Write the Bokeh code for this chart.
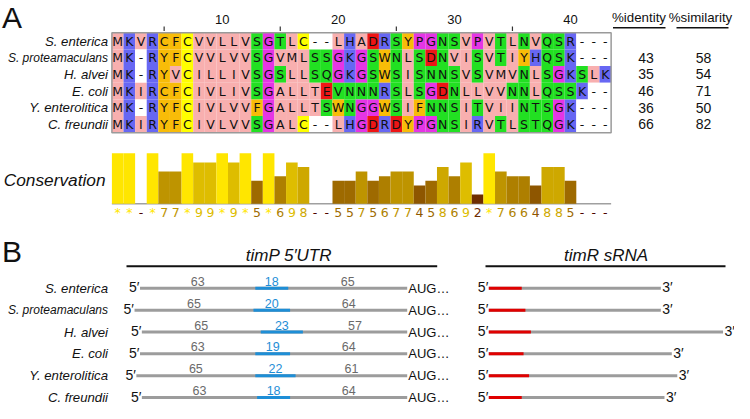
from bokeh.plotting import figure
from bokeh.models import Range1d, ColumnDataSource
from bokeh.embed import file_html
from bokeh.resources import INLINE
from bokeh.core.properties import value

# ---------------- data ----------------
species = ["S. enterica", "S. proteamaculans", "H. alvei", "E. coli",
           "Y. enterolitica", "C. freundii"]
alignment = [
    "MKVRCFCVVLLVSGTLC--LHADRSYPGNSVPVTLNVQSR---",
    "MK-RYFCVVLVVSGVMLSSGKGSWNLSDNVISVTIYHQSK---",
    "MK-RYVCILLIVSGSLLSQGKGSWSISNNSVSVMVNLSGKSLK",
    "MKIRCFCIVLIVSGALLTEVNNNRSLSGDNLLVVNNLQSSK--",
    "MK-RYFCIVLVVFGALLTSWNGGWSIFNNSITVIINTSGK---",
    "MKIRYFCIVLVVSGALC--LHGDRDYPGNSIRVTLSTQGK---",
]
# residue classes that differ from the plain Zappo rule in the picture
class_overrides = {(0, 5): "aromatic", (3, 5): "aromatic", (3, 18): "hydrophobic",
                   (4, 18): "hydrophobic", (3, 20): "hydrophilic"}
conservation = list("**-*77*99*9*5*698--5575677458692*7664885---")
tick_labels = [10, 20, 30, 40]
tick_minor = [5, 15, 25, 35]
identity = [None, 43, 35, 46, 36, 66]
similarity = [None, 58, 54, 71, 50, 82]
utr_up = [63, 65, 65, 63, 65, 63]
utr_pair = [18, 20, 23, 19, 22, 18]
utr_down = [65, 64, 57, 64, 61, 64]
timr_len = [94, 94, 128, 100, 103, 96]

# ---------------- layout / style ----------------
W, H = 734, 403
ALN_X0, CW = 111.4, 11.61
ROW0, RH = 40.6, 16.67
CONS_BASE, CU = 203.3, 4.6
NT_END, PXNT = 406.7, 1.83
TIMR_X0 = 488.3
PB_TOP, PB_K = 230.0, 0.9096


def by(y):
    return PB_TOP + (y - PB_TOP) * PB_K


ROWB0, RHB = by(293.6), 24.0 * PB_K
SANS = value("Liberation Sans")
DJV = value("DejaVu Sans")

CLASS_COLOR = {"hydrophobic": "#F8AFAF", "aromatic": "#F8BC08", "positive": "#6767F3",
               "negative": "#EE1515", "hydrophilic": "#22E022", "conformational": "#E535E5",
               "cysteine": "#FFFF00", "gap": "#FFFFFF"}
ZAPPO = {}
for aa in "ILVAM":
    ZAPPO[aa] = "hydrophobic"
for aa in "FWY":
    ZAPPO[aa] = "aromatic"
for aa in "KRH":
    ZAPPO[aa] = "positive"
for aa in "DE":
    ZAPPO[aa] = "negative"
for aa in "STNQ":
    ZAPPO[aa] = "hydrophilic"
for aa in "PG":
    ZAPPO[aa] = "conformational"
ZAPPO["C"] = "cysteine"
ZAPPO["-"] = "gap"


def cons_value(c):
    if c == "*":
        return 11
    if c == "-":
        return 0
    return int(c)


def cons_color(v):
    if v >= 11:
        return "#FFE600"
    r = max(0, min(255, int(110 + 16.1 * (v - 2))))
    g = max(0, min(255, int(45 + 20.6 * (v - 2))))
    return f"#{r:02x}{g:02x}00"


p = figure(width=W, height=H, x_range=Range1d(0, W), y_range=Range1d(H, 0),
           output_backend="svg", toolbar_location=None, min_border=0,
           x_axis_location=None, y_axis_location=None)
p.grid.visible = False
p.outline_line_color = None
p.background_fill_color = "white"

p.extra_x_ranges = {
    "col": Range1d(0.5 - ALN_X0 / CW, 0.5 + (W - ALN_X0) / CW),
    "nt": Range1d(-NT_END / PXNT, (W - NT_END) / PXNT),
    "nt2": Range1d(-TIMR_X0 / PXNT, (W - TIMR_X0) / PXNT),
}
p.extra_y_ranges = {
    "row": Range1d((H - ROW0) / RH, -ROW0 / RH),
    "cons": Range1d((CONS_BASE - H) / CU, CONS_BASE / CU),
    "rowb": Range1d((H - ROWB0) / RHB, -ROWB0 / RHB),
}

# ---------------- panel letters ----------------
p.text(x=[1.5, 1.5], y=[16.5, by(250.8) + 1.8], text=["A", "B"], text_font=SANS,
       text_font_size="30px", text_baseline="middle", text_align="left",
       text_color="#111111")

# ---------------- alignment ----------------
n_cols = len(alignment[0])
cx, cy, ct, cc = [], [], [], []
for i, seq in enumerate(alignment):
    for j, aa in enumerate(seq):
        cls = class_overrides.get((i, j + 1), ZAPPO[aa])
        cx.append(j + 1)
        cy.append(i)
        ct.append(aa)
        cc.append(CLASS_COLOR[cls])
cells = ColumnDataSource(dict(x=cx, y=cy, t=ct, c=cc))
p.rect(x="x", y="y", width=1, height=1, source=cells, fill_color="c",
       line_color=None, x_range_name="col", y_range_name="row")
p.text(x="x", y="y", text="t", source=cells, text_font=DJV,
       text_font_size="12.5px", text_align="center", text_baseline="middle",
       text_color="#111111", x_range_name="col", y_range_name="row")
p.quad(left=[0.5], right=[n_cols + 0.5], top=[-0.5], bottom=[len(alignment) - 0.5],
       fill_color=None, line_color="#9a9a9a", line_width=1.5,
       x_range_name="col", y_range_name="row")

label_sizes = ["12px" if len(s) > 15 else "13.2px" for s in species]
lab_src = ColumnDataSource(dict(x=[107.5] * len(species), y=list(range(len(species))),
                                t=species, s=label_sizes))
p.text(x="x", y="y", text="t", source=lab_src, text_font=SANS,
       text_font_style="italic", text_font_size="s", text_align="right",
       text_baseline="middle", text_color="#111111", y_range_name="row")

# position ticks
p.segment(x0=tick_minor, x1=tick_minor, y0=[26] * 4, y1=[30.5] * 4,
          line_color="#333333", line_width=1.2, x_range_name="col")
p.text(x=tick_labels, y=[19.3] * 4, text=[str(t) for t in tick_labels],
       text_font=SANS, text_font_size="13px", text_align="center",
       text_baseline="middle", text_color="#111111", x_range_name="col")

# %identity / %similarity
p.text(x=[638.5, 700], y=[17, 17], text=["%identity", "%similarity"], text_font=SANS,
       text_font_size="13.3px", text_align="center", text_baseline="middle",
       text_color="#111111")
p.segment(x0=[612.5, 676], x1=[665, 728], y0=[27.3, 27.3], y1=[27.3, 27.3],
          line_color="#111111", line_width=1.5)
rows_p = [i for i in range(len(species)) if identity[i] is not None]
p.text(x=[645.5] * len(rows_p), y=rows_p, text=[str(identity[i]) for i in rows_p],
       text_font=SANS, text_font_size="14px", text_align="center",
       text_baseline="middle", text_color="#111111", y_range_name="row")
p.text(x=[703] * len(rows_p), y=rows_p, text=[str(similarity[i]) for i in rows_p],
       text_font=SANS, text_font_size="14px", text_align="center",
       text_baseline="middle", text_color="#111111", y_range_name="row")

# ---------------- conservation ----------------
cv = [cons_value(c) for c in conservation]
ccol = [cons_color(v) for v in cv]
cols = list(range(1, len(cv) + 1))
p.segment(x0=[0.5], x1=[len(cv) + 0.5], y0=[0], y1=[0], line_color="#a0a0a0",
          line_width=1.6, x_range_name="col", y_range_name="cons")
p.vbar(x=cols, top=cv, bottom=0, width=1, fill_color=ccol, line_color=None,
       x_range_name="col", y_range_name="cons")
p.text(x=cols, y=[211.5] * len(cols), text=conservation, text_color=ccol,
       text_font=DJV, text_font_size="12.5px", text_align="center",
       text_baseline="middle", x_range_name="col")
p.text(x=[105], y=[179], text=["Conservation"], text_font=SANS,
       text_font_style="italic", text_font_size="17.3px", text_align="right",
       text_baseline="middle", text_color="#111111")

# ---------------- panel B ----------------
p.text(x=[288.5, 605.5], y=[by(256.7) + 0.8] * 2, text=["timP 5\u2032UTR", "timR sRNA"],
       text_font=SANS, text_font_style="italic", text_font_size="17px",
       text_align="center", text_baseline="middle", text_color="#111111")
p.segment(x0=[126, 485], x1=[436.7, 725], y0=[by(269.3)] * 2, y1=[by(269.3)] * 2,
          line_color="#111111", line_width=2)

rows_b = list(range(len(species)))
labb_src = ColumnDataSource(dict(x=[107.5] * len(species), y=rows_b,
                                 t=species, s=label_sizes))
p.text(x="x", y="y", text="t", source=labb_src, text_font=SANS,
       text_font_style="italic", text_font_size="s", text_align="right",
       text_baseline="middle", text_color="#111111", y_range_name="rowb")

total = [u + m + d for u, m, d in zip(utr_up, utr_pair, utr_down)]
start = [-t for t in total]
pair_start = [-(m + d) for m, d in zip(utr_pair, utr_down)]
pair_end = [-d for d in utr_down]
p.segment(x0=start, x1=[0] * len(total), y0=rows_b, y1=rows_b, line_color="#9c9c9c",
          line_width=3, line_cap="butt", x_range_name="nt", y_range_name="rowb")
p.segment(x0=pair_start, x1=pair_end, y0=rows_b, y1=rows_b, line_color="#1E8ED6",
          line_width=3, line_cap="butt", x_range_name="nt", y_range_name="rowb")
lab_y = [r - 7.0 / RHB for r in rows_b]
p.text(x=[s + u / 2 for s, u in zip(start, utr_up)], y=lab_y,
       text=[str(u) for u in utr_up], text_font=SANS, text_font_size="12.5px",
       text_align="center", text_baseline="middle", text_color="#6a6a6a",
       x_range_name="nt", y_range_name="rowb")
p.text(x=[(a + b) / 2 for a, b in zip(pair_start, pair_end)], y=lab_y,
       text=[str(m) for m in utr_pair], text_font=SANS, text_font_size="12.5px",
       text_align="center", text_baseline="middle", text_color="#1E8ED6",
       x_range_name="nt", y_range_name="rowb")
p.text(x=[-d / 2 for d in utr_down], y=lab_y,
       text=[str(d) for d in utr_down], text_font=SANS, text_font_size="12.5px",
       text_align="center", text_baseline="middle", text_color="#6a6a6a",
       x_range_name="nt", y_range_name="rowb")
tag_y = [r - 1.0 / RHB for r in rows_b]
p.text(x=[s - 0.3 for s in start], y=tag_y,
       text=["5\u2032"] * len(start), text_font=SANS, text_font_size="14px",
       text_align="right", text_baseline="middle", text_color="#111111",
       x_range_name="nt", y_range_name="rowb")
p.text(x=[0.6] * len(rows_b), y=rows_b, text=["AUG\u2026"] * len(rows_b),
       text_font=SANS, text_font_size="13px", text_align="left",
       text_baseline="middle", text_color="#111111",
       x_range_name="nt", y_range_name="rowb")

# timR
p.segment(x0=[0] * len(timr_len), x1=timr_len, y0=rows_b, y1=rows_b,
          line_color="#9c9c9c", line_width=3, line_cap="butt",
          x_range_name="nt2", y_range_name="rowb")
p.segment(x0=[0] * len(utr_pair), x1=utr_pair, y0=rows_b, y1=rows_b,
          line_color="#E00000", line_width=3, line_cap="butt",
          x_range_name="nt2", y_range_name="rowb")
p.text(x=[-0.3] * len(rows_b), y=tag_y,
       text=["5\u2032"] * len(rows_b), text_font=SANS, text_font_size="14px",
       text_align="right", text_baseline="middle", text_color="#111111",
       x_range_name="nt2", y_range_name="rowb")
p.text(x=[t + 0.8 for t in timr_len], y=tag_y,
       text=["3\u2032"] * len(rows_b), text_font=SANS, text_font_size="14px",
       text_align="left", text_baseline="middle", text_color="#111111",
       x_range_name="nt2", y_range_name="rowb")

open("out.html", "w").write(file_html(p, INLINE))
